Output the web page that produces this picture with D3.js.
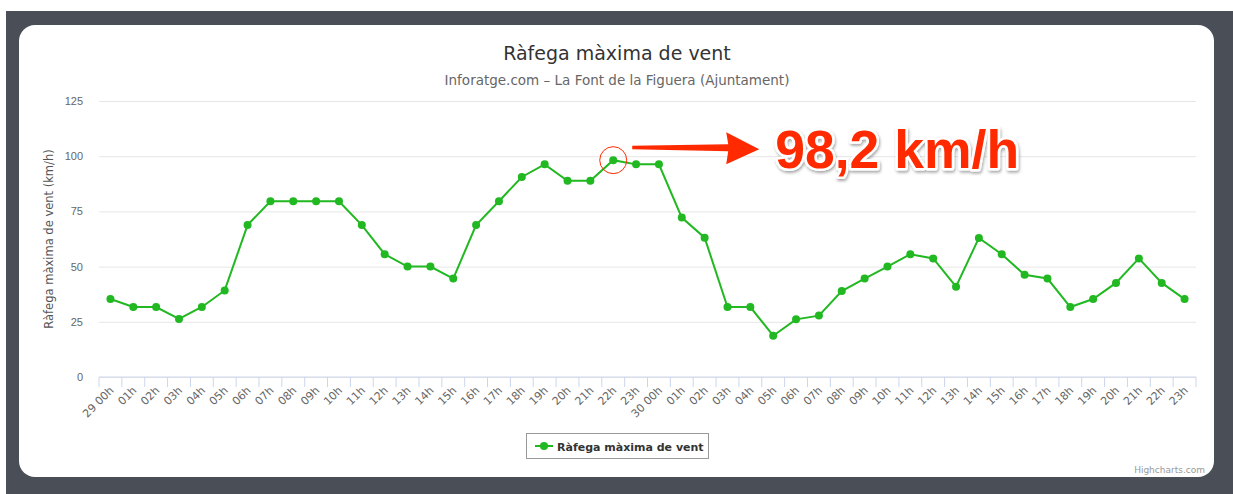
<!DOCTYPE html>
<html>
<head>
<meta charset="utf-8">
<script src="https://cdn.jsdelivr.net/npm/d3@7/dist/d3.min.js"></script>
<style>
  html, body { margin: 0; padding: 0; background: #fff; }
  svg { display: block; font-family: "DejaVu Sans", "Lucida Grande", sans-serif; }
  .grid line { stroke: #e6e6e6; }
  .grid .domain { display: none; }
  .y-axis .domain, .y-axis line { display: none; }
  .y-axis text { fill: #666; font-size: 11px; }
</style>
</head>
<body>
<div id="chart"></div>
<script>
// data
var hours = ["29 00h","01h","02h","03h","04h","05h","06h","07h","08h","09h","10h","11h",
    "12h","13h","14h","15h","16h","17h","18h","19h","20h","21h","22h","23h",
    "30 00h","01h","02h","03h","04h","05h","06h","07h","08h","09h","10h","11h",
    "12h","13h","14h","15h","16h","17h","18h","19h","20h","21h","22h","23h"];
var gust = [35.3, 31.7, 31.7, 26.3, 31.7, 39.2, 68.8, 79.6, 79.6, 79.6, 79.6, 68.8,
    55.6, 50.0, 50.0, 44.6, 68.8, 79.6, 90.6, 96.3, 88.9, 88.9, 98.2, 96.3,
    96.3, 72.2, 63.1, 31.7, 31.7, 18.7, 26.1, 27.8, 38.9, 44.6, 50.0, 55.6,
    53.7, 40.9, 63.0, 55.6, 46.3, 44.6, 31.7, 35.3, 42.6, 53.7, 42.6, 35.3];
var yTicks = [0, 25, 50, 75, 100, 125];
var chartTitle = "Ràfega màxima de vent";
var chartSubtitle = "Inforatge.com – La Font de la Figuera (Ajuntament)";
var yTitle = "Ràfega màxima de vent (km/h)";
var peakIndex = 22;
var peakLabel = "98,2 km/h";

var W = 1233, H = 494;
var margin = {top: 101, left: 99, right: 37, bottom: 117};
var width = W - margin.left - margin.right;
var height = H - margin.top - margin.bottom;
var green = "#21b821";
var red = "#ff2a00";

var svg = d3.select("#chart").append("svg")
    .attr("width", W)
    .attr("height", H);

// frame / card
svg.append("rect").attr("x", 6).attr("y", 11).attr("width", W - 6).attr("height", H - 11)
    .attr("fill", "#4a4e57");
svg.append("rect").attr("x", 19).attr("y", 25).attr("width", 1195).attr("height", 452)
    .attr("rx", 16).attr("ry", 16).attr("fill", "#fff");

var defs = svg.append("defs");
var shadow = defs.append("filter").attr("id", "shadow")
    .attr("x", "-10%").attr("y", "-30%").attr("width", "130%").attr("height", "170%");
shadow.append("feDropShadow").attr("dx", 1).attr("dy", 2).attr("stdDeviation", 1.5)
    .attr("flood-color", "#000").attr("flood-opacity", 0.35);

// titles
svg.append("text").attr("x", 617).attr("y", 60).attr("text-anchor", "middle")
    .attr("fill", "#333").style("font-size", "19px").text(chartTitle);
svg.append("text").attr("x", 617).attr("y", 85).attr("text-anchor", "middle")
    .attr("fill", "#666").style("font-size", "13.5px").text(chartSubtitle);

var g = svg.append("g")
    .attr("transform", "translate(" + margin.left + "," + margin.top + ")");

var xScale = d3.scaleBand()
    .domain(d3.range(hours.length))
    .range([0, width]);

var yScale = d3.scaleLinear()
    .domain([0, 125])
    .range([height, 0]);

// grid
g.append("g").attr("class", "grid")
    .call(d3.axisLeft(yScale).tickValues(yTicks).tickSize(-width).tickFormat(""));

// y axis
g.append("g").attr("class", "y-axis")
    .call(d3.axisLeft(yScale).tickValues(yTicks).tickSize(0).tickPadding(16));

g.append("text")
    .attr("transform", "translate(" + (49 - margin.left) + "," + (height / 2) + ") rotate(-90)")
    .attr("text-anchor", "middle")
    .attr("dy", "0.35em")
    .attr("fill", "#555")
    .style("font-size", "11.5px")
    .text(yTitle);

// x axis: ticks at category boundaries
var xAxisG = g.append("g").attr("class", "x-axis")
    .attr("transform", "translate(0," + height + ")");
xAxisG.append("line")
    .attr("x1", 0).attr("x2", width).attr("stroke", "#ccd6eb");
xAxisG.selectAll(".tick-line")
    .data(d3.range(hours.length + 1))
    .enter().append("line")
    .attr("class", "tick-line")
    .attr("x1", function(d) { return d * xScale.step(); })
    .attr("x2", function(d) { return d * xScale.step(); })
    .attr("y1", 0).attr("y2", 10)
    .attr("stroke", "#ccd6eb");
xAxisG.selectAll(".x-label")
    .data(hours)
    .enter().append("text")
    .attr("class", "x-label")
    .attr("text-anchor", "end")
    .attr("fill", "#666")
    .style("font-size", "11px")
    .attr("transform", function(d, i) {
        var cx = xScale(i) + xScale.bandwidth() / 2 + 4;
        return "translate(" + cx + ",14) rotate(-45)";
    })
    .text(function(d) { return d; });

// line
var line = d3.line()
    .x(function(d, i) { return xScale(i) + xScale.bandwidth() / 2; })
    .y(function(d) { return yScale(d); });

g.append("path")
    .datum(gust)
    .attr("fill", "none")
    .attr("stroke", green)
    .attr("stroke-width", 2)
    .attr("d", line);

g.selectAll(".dot")
    .data(gust)
    .enter().append("circle")
    .attr("class", "dot")
    .attr("cx", function(d, i) { return xScale(i) + xScale.bandwidth() / 2; })
    .attr("cy", function(d) { return yScale(d); })
    .attr("r", 4)
    .attr("fill", green);

// annotation on peak
var px = xScale(peakIndex) + xScale.bandwidth() / 2;
var py = yScale(gust[peakIndex]);

g.append("circle")
    .attr("cx", px).attr("cy", py).attr("r", 13.5)
    .attr("fill", "none").attr("stroke", red).attr("stroke-width", 1);

var ax = px + 19, ay = py - 13;
g.append("path")
    .attr("fill", red)
    .attr("d", "M" + ax + "," + (ay - 1.5) +
        "L" + (ax + 96) + "," + (ay - 3) +
        "L" + (ax + 94) + "," + (ay - 15) +
        "L" + (ax + 127) + "," + (ay + 2) +
        "L" + (ax + 94) + "," + (ay + 17) +
        "L" + (ax + 96) + "," + (ay + 4) +
        "L" + ax + "," + (ay + 2) + "Z");

g.append("text")
    .attr("x", px + 162).attr("y", py + 8)
    .attr("fill", red)
    .attr("stroke", "#fff")
    .attr("stroke-width", 5)
    .attr("stroke-linejoin", "round")
    .attr("paint-order", "stroke")
    .attr("filter", "url(#shadow)")
    .style("font-family", "'Liberation Sans', Arial, sans-serif")
    .style("font-weight", "bold")
    .style("font-size", "53.5px")
    .text(peakLabel);

// legend
var legend = svg.append("g").attr("transform", "translate(526,433)");
legend.append("rect").attr("x", 0.5).attr("y", 0.5).attr("width", 182).attr("height", 25)
    .attr("fill", "#fff").attr("stroke", "#999").attr("stroke-width", 1);
legend.append("line").attr("x1", 9).attr("x2", 27).attr("y1", 13).attr("y2", 13)
    .attr("stroke", green).attr("stroke-width", 2);
legend.append("circle").attr("cx", 18).attr("cy", 13).attr("r", 4).attr("fill", green);
legend.append("text").attr("x", 31).attr("y", 17.5)
    .attr("fill", "#333").style("font-size", "11px").style("font-weight", "bold")
    .text(chartTitle);

// credits
svg.append("text").attr("x", 1205).attr("y", 473).attr("text-anchor", "end")
    .attr("fill", "#999").style("font-size", "9px").text("Highcharts.com");
</script>
</body>
</html>
